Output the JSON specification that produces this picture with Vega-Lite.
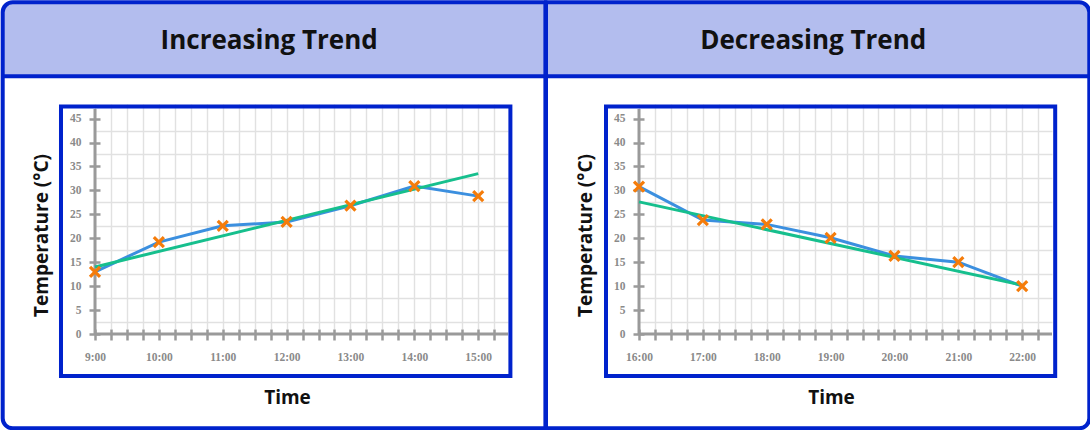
{
  "$schema": "https://vega.github.io/schema/vega-lite/v6.json",
  "padding": 0,
  "spacing": -4,
  "datasets": {
    "inc_title": [{"panel": "Increasing Trend"}],
    "dec_title": [{"panel": "Decreasing Trend"}],
    "inc": [
      {"time": "2024-01-01T09:00:00", "temp": 13.0},
      {"time": "2024-01-01T10:00:00", "temp": 19.2},
      {"time": "2024-01-01T11:00:00", "temp": 22.6},
      {"time": "2024-01-01T12:00:00", "temp": 23.4},
      {"time": "2024-01-01T13:00:00", "temp": 26.8},
      {"time": "2024-01-01T14:00:00", "temp": 30.9},
      {"time": "2024-01-01T15:00:00", "temp": 28.8}
    ],
    "inc_trend": [
      {"time": "2024-01-01T09:00:00", "temp": 14.0},
      {"time": "2024-01-01T15:00:00", "temp": 33.5}
    ],
    "dec": [
      {"time": "2024-01-01T16:00:00", "temp": 30.8},
      {"time": "2024-01-01T17:00:00", "temp": 23.8},
      {"time": "2024-01-01T18:00:00", "temp": 22.9},
      {"time": "2024-01-01T19:00:00", "temp": 20.1},
      {"time": "2024-01-01T20:00:00", "temp": 16.3},
      {"time": "2024-01-01T21:00:00", "temp": 15.0},
      {"time": "2024-01-01T22:00:00", "temp": 10.0}
    ],
    "dec_trend": [
      {"time": "2024-01-01T16:00:00", "temp": 27.6},
      {"time": "2024-01-01T22:00:00", "temp": 10.2}
    ]
  },
  "hconcat": [
    {
      "width": 413,
      "height": 225,
      "resolve": {"axis": {"y": "independent"}},
      "layer": [
        {
          "data": {"name": "inc_title"},
          "mark": {"type": "rect", "fill": "#b3bdee", "strokeWidth": 0, "cornerRadiusTopLeft": 10},
          "encoding": {
            "x": {"datum": {"year": 2024, "month": 1, "date": 1, "hours": 7, "minutes": 33, "seconds": 17}, "type": "temporal"},
            "x2": {"datum": {"year": 2024, "month": 1, "date": 1, "hours": 16, "minutes": 3, "seconds": 8}},
            "y": {"datum": 53.83, "type": "quantitative", "axis": null},
            "y2": {"datum": 69.29}
          }
        },
        {
          "data": {"name": "inc_title"},
          "mark": {"type": "rect", "fill": "transparent", "stroke": "#0022cc", "strokeWidth": 4, "cornerRadiusTopLeft": 10, "cornerRadiusBottomLeft": 10},
          "encoding": {
            "x": {"datum": {"year": 2024, "month": 1, "date": 1, "hours": 7, "minutes": 33, "seconds": 17}, "type": "temporal"},
            "x2": {"datum": {"year": 2024, "month": 1, "date": 1, "hours": 16, "minutes": 3, "seconds": 8}},
            "y": {"datum": -19.7, "type": "quantitative", "axis": null},
            "y2": {"datum": 69.29}
          }
        },
        {
          "data": {"name": "inc_title"},
          "mark": {"type": "rule", "color": "#0022cc", "strokeWidth": 4},
          "encoding": {
            "x": {"datum": {"year": 2024, "month": 1, "date": 1, "hours": 7, "minutes": 33, "seconds": 17}, "type": "temporal"},
            "x2": {"datum": {"year": 2024, "month": 1, "date": 1, "hours": 16, "minutes": 3, "seconds": 8}},
            "y": {"datum": 53.83, "type": "quantitative", "axis": null}
          }
        },
        {
          "data": {"name": "inc_title"},
          "mark": {"type": "text", "font": "Open Sans", "fontWeight": "bold", "fontSize": 26, "color": "#111111", "align": "center", "baseline": "alphabetic"},
          "encoding": {
            "text": {"field": "panel"},
            "x": {"datum": {"year": 2024, "month": 1, "date": 1, "hours": 11, "minutes": 43, "seconds": 36}, "type": "temporal"},
            "y": {"datum": 59.47, "type": "quantitative", "axis": null}
          }
        },
        {
          "data": {"name": "inc_title"},
          "mark": {"type": "rect", "fill": "transparent", "stroke": "#0022cc", "strokeWidth": 4},
          "encoding": {
            "x": {"datum": {"year": 2024, "month": 1, "date": 1, "hours": 8, "minutes": 28, "seconds": 3}, "type": "temporal"},
            "x2": {"datum": {"year": 2024, "month": 1, "date": 1, "hours": 15, "minutes": 30, "seconds": 15}},
            "y": {"datum": -8.79, "type": "quantitative", "axis": null},
            "y2": {"datum": 47.5}
          }
        },
        {
          "data": {"name": "inc_title"},
          "mark": {"type": "rule", "color": "#9a9a9a", "strokeWidth": 3},
          "encoding": {
            "x": {"datum": {"year": 2024, "month": 1, "date": 1, "hours": 9}, "type": "temporal"},
            "y": {"datum": 0, "type": "quantitative", "axis": {"orient": "left", "title": null, "values": [2.5, 7.5, 12.5, 17.5, 22.5, 27.5, 32.5, 37.5, 42.5], "grid": true, "ticks": false, "labels": false, "domain": false, "offset": 0}},
            "y2": {"datum": 47}
          }
        },
        {
          "data": {"name": "inc_title"},
          "mark": {"type": "rule", "color": "#9a9a9a", "strokeWidth": 3},
          "encoding": {
            "x": {"datum": {"year": 2024, "month": 1, "date": 1, "hours": 9}, "type": "temporal"},
            "x2": {"datum": {"year": 2024, "month": 1, "date": 1, "hours": 15, "minutes": 28}},
            "y": {"datum": 0, "type": "quantitative", "axis": null}
          }
        },
        {
          "data": {"name": "inc"},
          "mark": {"type": "line", "color": "#3b8fdf", "strokeWidth": 3},
          "encoding": {
            "x": {
              "field": "time", "type": "temporal",
              "scale": {"domain": [{"year": 2024, "month": 1, "date": 1, "hours": 9}, {"year": 2024, "month": 1, "date": 1, "hours": 15, "minutes": 28}], "nice": false},
              "axis": {
                "title": "Time",
                "tickCount": 26,
                "labelExpr": "minutes(datum.value) == 0 ? timeFormat(datum.value, '%-H:%M') : ''",
                "labelBaseline": "middle",
                "labelPadding": 17,
                "titleX": 192,
                "titleY": 74,
                "titleAlign": "center",
                "titleBaseline": "alphabetic"
              }
            },
            "y": {
              "field": "temp", "type": "quantitative",
              "scale": {"domain": [0, 47], "nice": false, "zero": false},
              "axis": {
                "orient": "left",
                "title": "Temperature (°C)",
                "values": [0, 5, 10, 15, 20, 25, 30, 35, 40, 45],
                "labelPadding": 8,
                "titleAngle": 270,
                "titleX": -52.7,
                "titleY": 126,
                "titleAlign": "center",
                "titleBaseline": "alphabetic"
              }
            }
          }
        },
        {
          "data": {"name": "inc_trend"},
          "mark": {"type": "line", "color": "#16bf8d", "strokeWidth": 3},
          "encoding": {
            "x": {"field": "time", "type": "temporal"},
            "y": {"field": "temp", "type": "quantitative", "axis": null}
          }
        },
        {
          "data": {"name": "inc"},
          "mark": {"type": "point", "shape": "M-1,-1L1,1M1,-1L-1,1", "filled": false, "color": "#f57c0a", "strokeWidth": 3.2, "size": 100, "opacity": 1},
          "encoding": {
            "x": {"field": "time", "type": "temporal"},
            "y": {"field": "temp", "type": "quantitative", "axis": null}
          }
        }
      ]
    },
    {
      "width": 413,
      "height": 225,
      "resolve": {"axis": {"y": "independent"}},
      "layer": [
        {
          "data": {"name": "dec_title"},
          "mark": {"type": "rect", "fill": "#b3bdee", "strokeWidth": 0, "cornerRadiusTopRight": 10},
          "encoding": {
            "x": {"datum": {"year": 2024, "month": 1, "date": 1, "hours": 14, "minutes": 32, "seconds": 38}, "type": "temporal"},
            "x2": {"datum": {"year": 2024, "month": 1, "date": 1, "hours": 23, "minutes": 3, "seconds": 2}},
            "y": {"datum": 53.83, "type": "quantitative", "axis": null},
            "y2": {"datum": 69.29}
          }
        },
        {
          "data": {"name": "dec_title"},
          "mark": {"type": "rect", "fill": "transparent", "stroke": "#0022cc", "strokeWidth": 4, "cornerRadiusTopRight": 10, "cornerRadiusBottomRight": 10},
          "encoding": {
            "x": {"datum": {"year": 2024, "month": 1, "date": 1, "hours": 14, "minutes": 32, "seconds": 38}, "type": "temporal"},
            "x2": {"datum": {"year": 2024, "month": 1, "date": 1, "hours": 23, "minutes": 3, "seconds": 2}},
            "y": {"datum": -19.7, "type": "quantitative", "axis": null},
            "y2": {"datum": 69.29}
          }
        },
        {
          "data": {"name": "dec_title"},
          "mark": {"type": "rule", "color": "#0022cc", "strokeWidth": 4},
          "encoding": {
            "x": {"datum": {"year": 2024, "month": 1, "date": 1, "hours": 14, "minutes": 32, "seconds": 38}, "type": "temporal"},
            "x2": {"datum": {"year": 2024, "month": 1, "date": 1, "hours": 23, "minutes": 3, "seconds": 2}},
            "y": {"datum": 53.83, "type": "quantitative", "axis": null}
          }
        },
        {
          "data": {"name": "dec_title"},
          "mark": {"type": "text", "font": "Open Sans", "fontWeight": "bold", "fontSize": 26, "color": "#111111", "align": "center", "baseline": "alphabetic"},
          "encoding": {
            "text": {"field": "panel"},
            "x": {"datum": {"year": 2024, "month": 1, "date": 1, "hours": 18, "minutes": 43, "seconds": 42}, "type": "temporal"},
            "y": {"datum": 59.47, "type": "quantitative", "axis": null}
          }
        },
        {
          "data": {"name": "dec_title"},
          "mark": {"type": "rect", "fill": "transparent", "stroke": "#0022cc", "strokeWidth": 4},
          "encoding": {
            "x": {"datum": {"year": 2024, "month": 1, "date": 1, "hours": 15, "minutes": 29}, "type": "temporal"},
            "x2": {"datum": {"year": 2024, "month": 1, "date": 1, "hours": 22, "minutes": 31}},
            "y": {"datum": -8.79, "type": "quantitative", "axis": null},
            "y2": {"datum": 47.5}
          }
        },
        {
          "data": {"name": "dec_title"},
          "mark": {"type": "rule", "color": "#9a9a9a", "strokeWidth": 3},
          "encoding": {
            "x": {"datum": {"year": 2024, "month": 1, "date": 1, "hours": 16}, "type": "temporal"},
            "y": {"datum": 0, "type": "quantitative", "axis": {"orient": "left", "title": null, "values": [2.5, 7.5, 12.5, 17.5, 22.5, 27.5, 32.5, 37.5, 42.5], "grid": true, "ticks": false, "labels": false, "domain": false, "offset": 0}},
            "y2": {"datum": 47}
          }
        },
        {
          "data": {"name": "dec_title"},
          "mark": {"type": "rule", "color": "#9a9a9a", "strokeWidth": 3},
          "encoding": {
            "x": {"datum": {"year": 2024, "month": 1, "date": 1, "hours": 16}, "type": "temporal"},
            "x2": {"datum": {"year": 2024, "month": 1, "date": 1, "hours": 22, "minutes": 28}},
            "y": {"datum": 0, "type": "quantitative", "axis": null}
          }
        },
        {
          "data": {"name": "dec"},
          "mark": {"type": "line", "color": "#3b8fdf", "strokeWidth": 3},
          "encoding": {
            "x": {
              "field": "time", "type": "temporal",
              "scale": {"domain": [{"year": 2024, "month": 1, "date": 1, "hours": 16}, {"year": 2024, "month": 1, "date": 1, "hours": 22, "minutes": 28}], "nice": false},
              "axis": {
                "title": "Time",
                "tickCount": 26,
                "labelExpr": "minutes(datum.value) == 0 ? timeFormat(datum.value, '%-H:%M') : ''",
                "labelBaseline": "middle",
                "labelPadding": 17,
                "titleX": 192,
                "titleY": 74,
                "titleAlign": "center",
                "titleBaseline": "alphabetic"
              }
            },
            "y": {
              "field": "temp", "type": "quantitative",
              "scale": {"domain": [0, 47], "nice": false, "zero": false},
              "axis": {
                "orient": "left",
                "title": "Temperature (°C)",
                "values": [0, 5, 10, 15, 20, 25, 30, 35, 40, 45],
                "labelPadding": 8,
                "titleAngle": 270,
                "titleX": -52.7,
                "titleY": 126,
                "titleAlign": "center",
                "titleBaseline": "alphabetic"
              }
            }
          }
        },
        {
          "data": {"name": "dec_trend"},
          "mark": {"type": "line", "color": "#16bf8d", "strokeWidth": 3},
          "encoding": {
            "x": {"field": "time", "type": "temporal"},
            "y": {"field": "temp", "type": "quantitative", "axis": null}
          }
        },
        {
          "data": {"name": "dec"},
          "mark": {"type": "point", "shape": "M-1,-1L1,1M1,-1L-1,1", "filled": false, "color": "#f57c0a", "strokeWidth": 3.2, "size": 100, "opacity": 1},
          "encoding": {
            "x": {"field": "time", "type": "temporal"},
            "y": {"field": "temp", "type": "quantitative", "axis": null}
          }
        }
      ]
    }
  ],
  "config": {
    "view": {"stroke": null},
    "axis": {
      "grid": true,
      "gridColor": "#e1e1e1",
      "gridWidth": 1.4,
      "domain": false,
      "offset": -5,
      "ticks": true,
      "tickSize": 11,
      "tickColor": "#9a9a9a",
      "tickWidth": 2.5,
      "labelFont": "Liberation Serif",
      "labelFontWeight": "bold",
      "labelFontSize": 11.5,
      "labelColor": "#8a8a8a",
      "labelOverlap": false,
      "labelFlush": false,
      "titleFont": "Open Sans",
      "titleFontWeight": "bold",
      "titleFontSize": 19,
      "titleColor": "#111111"
    }
  }
}
